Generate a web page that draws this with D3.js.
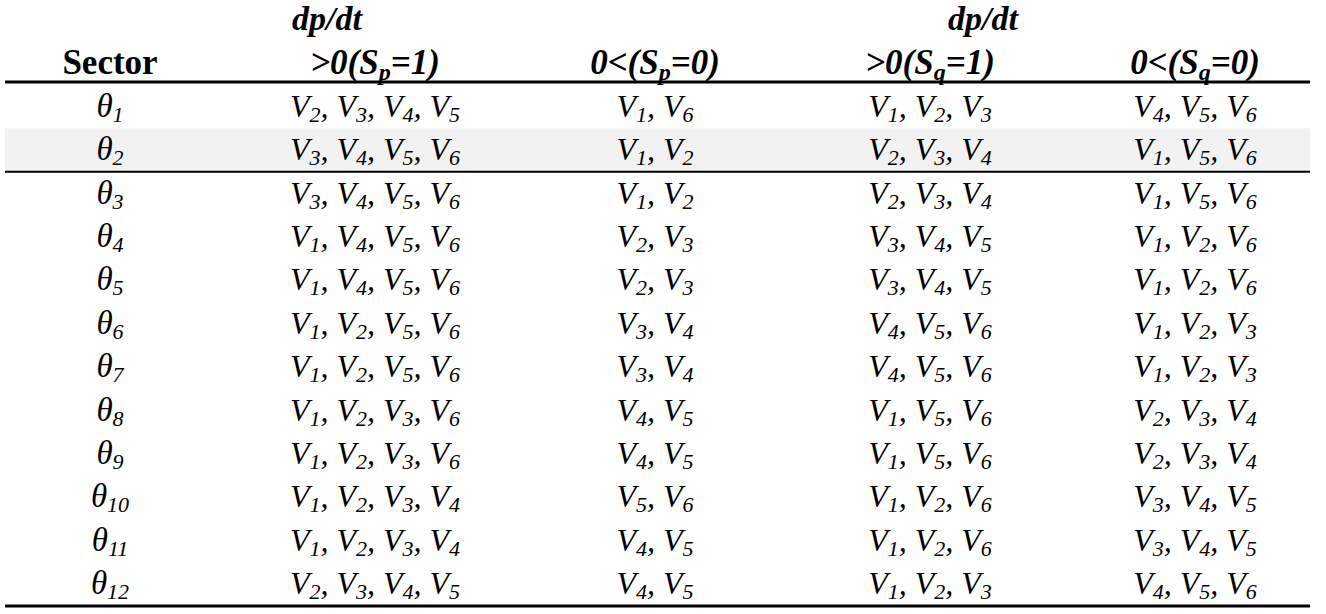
<!DOCTYPE html>
<html><head><meta charset="utf-8">
<script src="https://cdn.jsdelivr.net/npm/d3@7"></script>
<style>body{margin:0;background:#fff}</style>
</head><body><div id="chart-area"></div>
<script>
var sectors = [1,2,3,4,5,6,7,8,9,10,11,12];
var pPos = [[2,3,4,5],[3,4,5,6],[3,4,5,6],[1,4,5,6],[1,4,5,6],[1,2,5,6],[1,2,5,6],[1,2,3,6],[1,2,3,6],[1,2,3,4],[1,2,3,4],[2,3,4,5]];
var pNeg = [[1,6],[1,2],[1,2],[2,3],[2,3],[3,4],[3,4],[4,5],[4,5],[5,6],[4,5],[4,5]];
var qPos = [[1,2,3],[2,3,4],[2,3,4],[3,4,5],[3,4,5],[4,5,6],[4,5,6],[1,5,6],[1,5,6],[1,2,6],[1,2,6],[1,2,3]];
var qNeg = [[4,5,6],[1,5,6],[1,5,6],[1,2,6],[1,2,6],[1,2,3],[1,2,3],[2,3,4],[2,3,4],[3,4,5],[3,4,5],[4,5,6]];
var headers = [["Sector",""],[">0(S","p","=1)"],["0<(S","p","=0)"],[">0(S","q","=1)"],["0<(S","q","=0)"]];

var width = 1326, height = 614;
var svg = d3.select("#chart-area").append("svg").attr("width", width).attr("height", height)
    .attr("font-family", "'Liberation Serif', 'Times New Roman', 'DejaVu Serif', serif");

var x = d3.scaleOrdinal().domain([0,1,2,3,4]).range([110,375,655,930,1195]);
var y = d3.scaleBand().domain(sectors).range([85, 606]).padding(0);

// shaded row
svg.append("rect").attr("x",5).attr("width",1305)
    .attr("y",y(2)).attr("height",y.bandwidth()).attr("fill","#f2f2f2");

var rules = [82, y(3), 606];
svg.selectAll("line.rule").data(rules).enter().append("line")
    .attr("x1",5).attr("x2",1310).attr("y1",d=>d).attr("y2",d=>d)
    .attr("stroke","#000").attr("stroke-width",(d,i)=>i==1?2:3);

// headers
[327,983].forEach(function(cx){
  svg.append("text").attr("x",cx).attr("y",30).attr("text-anchor","middle")
    .attr("font-size",34).attr("font-weight","bold").attr("font-style","italic").text("dp/dt");
});
headers.forEach(function(h,i){
  var t = svg.append("text").attr("x",x(i)).attr("y",74).attr("text-anchor","middle")
    .attr("font-size",35).attr("font-weight","bold").attr("font-style",i?"italic":"normal");
  if(i==0){t.text(h[0]);return;}
  t.append("tspan").text(h[0]);
  t.append("tspan").attr("font-size",24).attr("dy",6).text(h[1]);
  t.append("tspan").attr("dy",-6).text(h[2]);
});

function vecText(sel, list){
  list.forEach(function(v,k){
    sel.append("tspan").attr("dy",k?-5:0).text((k?", ":"")+"V");
    sel.append("tspan").attr("font-size",22).attr("dy",5).text(v);
  });
}
var cols = [pPos,pNeg,qPos,qNeg];
sectors.forEach(function(s,r){
  var cy = y(s)+y.bandwidth()/2+10;
  var t = svg.append("text").attr("x",x(0)).attr("y",cy).attr("text-anchor","middle")
    .attr("font-size",33).attr("font-style","italic");
  t.append("tspan").text("θ");
  t.append("tspan").attr("font-size",22).attr("dy",5).text(s);
  cols.forEach(function(c,j){
    var tt = svg.append("text").attr("x",x(j+1)).attr("y",cy).attr("text-anchor","middle")
      .attr("font-size",32).attr("font-style","italic");
    vecText(tt, c[r]);
  });
});
</script></body></html>
